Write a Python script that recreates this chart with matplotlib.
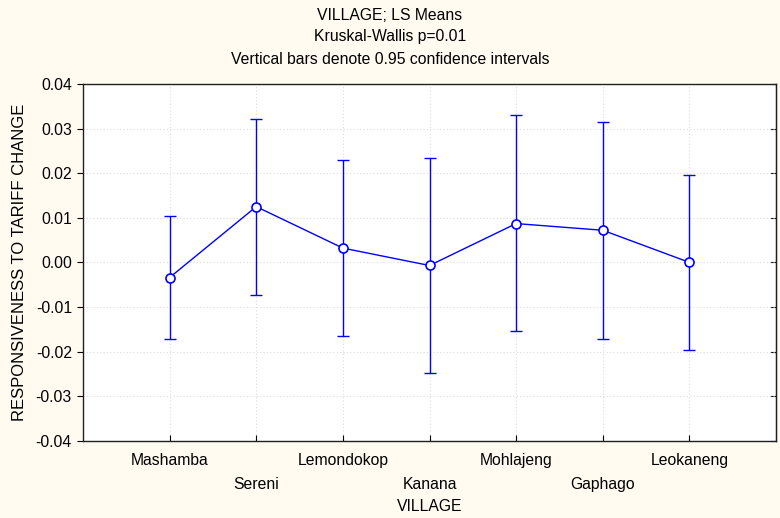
import matplotlib
matplotlib.use("Agg")
import matplotlib.pyplot as plt

plt.rcParams["font.family"] = ["Liberation Sans", "DejaVu Sans"]

# data
villages = ["Mashamba", "Sereni", "Lemondokop", "Kanana",
            "Mohlajeng", "Gaphago", "Leokaneng"]
means = [-0.0034, 0.0125, 0.0032, -0.0007, 0.0087, 0.0072, 0.0000]
upper = [0.0103, 0.0321, 0.0229, 0.0235, 0.0330, 0.0314, 0.0197]
lower = [-0.0172, -0.0073, -0.0165, -0.0249, -0.0155, -0.0171, -0.0197]

bg = "#FFFBF0"
blue = "#0000FF"
fs = 11.3

fig = plt.figure(figsize=(7.8, 5.18), dpi=100, facecolor=bg)
ax = fig.add_axes([0.1064, 0.1492, 0.8885, 0.6886])
ax.set_facecolor("white")

x = list(range(1, len(villages) + 1))
yerr = [[m - lo for m, lo in zip(means, lower)],
        [up - m for m, up in zip(means, upper)]]

ax.errorbar(x, means, yerr=yerr, fmt="none", ecolor=blue,
            elinewidth=1.0, capsize=4.5, capthick=1.0, zorder=2)
ax.plot(x, means, color=blue, linewidth=1.0, marker="o", markersize=6.5,
        markerfacecolor="white", markeredgecolor=blue, markeredgewidth=1.2,
        zorder=3)

ax.set_xlim(0, len(villages) + 1)
ax.set_ylim(-0.04, 0.04)
ax.set_yticks([-0.04, -0.03, -0.02, -0.01, 0.0, 0.01, 0.02, 0.03, 0.04])
ax.set_yticklabels([f"{v:.2f}" for v in ax.get_yticks()])

labels = [v if i % 2 == 0 else "\n" + v for i, v in enumerate(villages)]
ax.set_xticks(x)
ax.set_xticklabels(labels, linespacing=1.7)

ax.grid(True, color="#DCDCDC", linestyle=(0, (1, 2)), linewidth=0.8)
ax.set_axisbelow(True)

ax.tick_params(axis="x", direction="in", length=4, pad=9, labelsize=fs)
ax.tick_params(axis="y", direction="out", length=4, pad=4, labelsize=fs)

# ticks pointing inward on right spine
sec = ax.secondary_yaxis("right")
sec.set_yticks(ax.get_yticks())
sec.tick_params(direction="in", length=4, labelright=False)

for s in ax.spines.values():
    s.set_color("#202020")
    s.set_linewidth(1.0)

ax.set_xlabel("VILLAGE", fontsize=fs, labelpad=5)
ax.set_ylabel("RESPONSIVENESS TO TARIFF CHANGE", fontsize=12, labelpad=6)

fig.text(0.5, 0.971, "VILLAGE; LS Means", ha="center", va="center", fontsize=fs)
fig.text(0.5, 0.929, "Kruskal-Wallis p=0.01", ha="center", va="center", fontsize=fs)
fig.text(0.5, 0.886, "Vertical bars denote 0.95 confidence intervals",
         ha="center", va="center", fontsize=fs)

fig.savefig("out.png", dpi=100, facecolor=bg)
